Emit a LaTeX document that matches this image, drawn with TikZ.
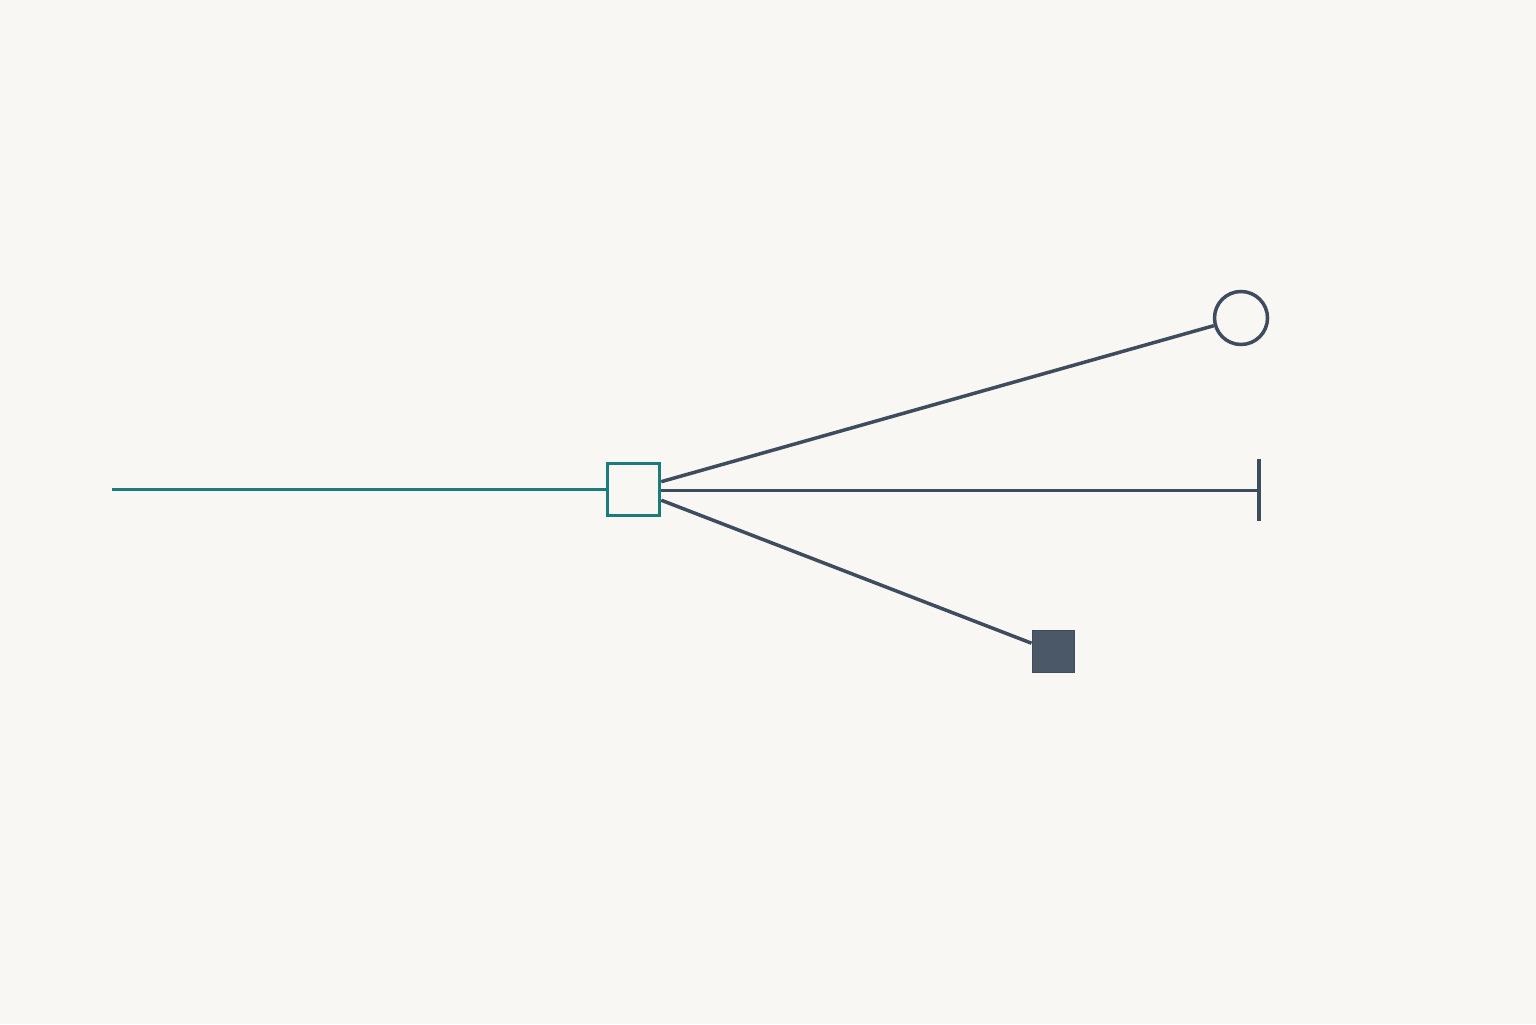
\documentclass[tikz,border=0pt]{standalone}
\usetikzlibrary{positioning}
\definecolor{paper}{HTML}{F8F7F3}
\definecolor{tealline}{HTML}{1A7D79}
\definecolor{slate}{HTML}{3F4C5D}
\definecolor{slatefill}{HTML}{4A5868}
\tikzset{
    hubbox/.style={draw=tealline, line width=0.035cm, fill=paper, minimum size=0.52cm, inner sep=0pt},
    ringend/.style={circle, draw=slate, line width=0.035cm, minimum size=0.53cm, inner sep=0pt},
    blockend/.style={fill=slatefill, draw=slate, line width=0.01cm, minimum size=0.42cm, inner sep=0pt},
    leg/.style={draw=slate, line width=0.035cm}
}
\begin{document}
\begin{tikzpicture}
    % Background
    \fill[paper] (0,0) rectangle (15.36,10.24);
    \useasboundingbox (0,0) rectangle (15.36,10.24);
    % Hub square and the three ends
    \node[hubbox] (hub) at (6.335,5.345) {};
    \node[ringend] (ring) at (12.41,7.06) {};
    \node[blockend] (block) at (10.53,3.725) {};
    \coordinate (start) at (1.12,5.345);
    \coordinate (bar) at (12.59,5.335);
    \coordinate (bartop) at (12.59,5.65);
    \coordinate (barbot) at (12.59,5.03);
    % Teal line into the hub
    \draw[draw=tealline, line width=0.035cm] (start) -- (hub.west);
    % Legs out of the hub
    \draw[leg] (hub) -- (ring);
    \draw[leg] (hub.east |- bar) -- (bar);
    \draw[leg] (hub) -- (block);
    % Bar at the end of the middle leg
    \draw[leg] (bartop) -- (barbot);
\end{tikzpicture}
\end{document}
